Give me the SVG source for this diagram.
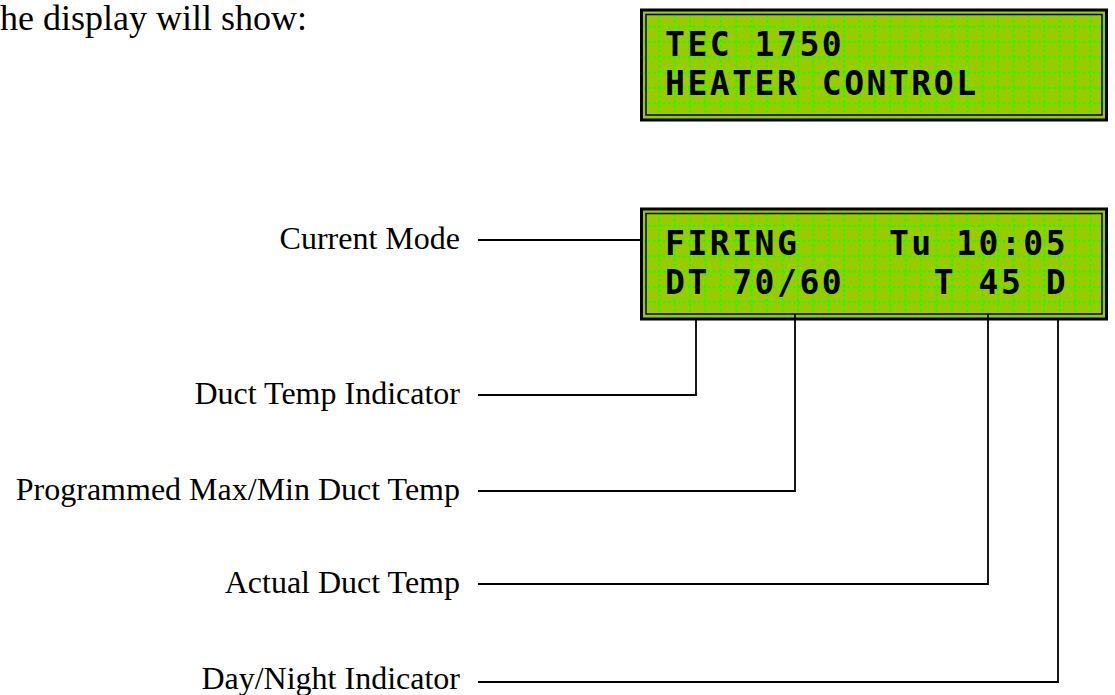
<svg xmlns="http://www.w3.org/2000/svg" xmlns:xlink="http://www.w3.org/1999/xlink" width="1115" height="695" viewBox="0 0 1115 695">
<style>
.lbl{font-family:"Liberation Serif","Times New Roman",serif;font-size:32px;fill:#000}
.lcdtxt{font-family:"DejaVu Sans Mono","Liberation Mono",monospace;font-weight:bold;font-size:33px;letter-spacing:2.53px;fill:#000}
.grid{stroke:#1aff00;stroke-width:2;stroke-dasharray:2.5 2.5;fill:none}
.conn{stroke:#000;stroke-width:1.8;fill:none}
</style>
<defs>
<g id="lcd">
<rect x="641.5" y="10" width="465" height="110" fill="#99cc00" stroke="#000" stroke-width="3"/>
<path class="grid" d="M659.3,15V115M674.7,15V115M690.1,15V115M705.5,15V115M720.9,15V115M736.3,15V115M751.7,15V115M767.1,15V115M782.5,15V115M797.9,15V115M813.3,15V115M828.7,15V115M844.1,15V115M859.5,15V115M874.9,15V115M890.3,15V115M905.7,15V115M921.1,15V115M936.5,15V115M951.9,15V115M967.3,15V115M982.7,15V115M998.1,15V115M1013.5,15V115M1028.9,15V115M1044.3,15V115M1059.7,15V115M1075.1,15V115M1090.5,15V115"/>
<path class="grid" d="M643,26.7H1105M643,42H1105M643,57.3H1105M643,72.7H1105M643,88H1105M643,103.3H1105"/>
<rect x="646" y="14.5" width="456" height="100.5" fill="none" stroke="#000" stroke-width="1.5"/>
</g>
</defs>
<text id="intro" class="lbl" x="-22" y="30" style="font-size:36px">The display will show:</text>
<g id="lcd-top">
<use xlink:href="#lcd"/>
<text class="lcdtxt" x="665" y="56" xml:space="preserve">TEC 1750</text>
<text class="lcdtxt" x="665" y="95" xml:space="preserve">HEATER CONTROL</text>
</g>
<g id="lcd-main">
<use xlink:href="#lcd" y="199"/>
<text class="lcdtxt" x="665" y="255" xml:space="preserve">FIRING    Tu 10:05</text>
<text class="lcdtxt" x="665" y="294" xml:space="preserve">DT 70/60    T 45 D</text>
</g>
<g id="label-current-mode"><text class="lbl" x="460" y="249" text-anchor="end">Current Mode</text></g>
<g id="label-duct-temp-indicator"><text class="lbl" x="460" y="404" text-anchor="end">Duct Temp Indicator</text></g>
<g id="label-programmed"><text class="lbl" x="460" y="500" text-anchor="end">Programmed Max/Min Duct Temp</text></g>
<g id="label-actual"><text class="lbl" x="460" y="593" text-anchor="end">Actual Duct Temp</text></g>
<g id="label-day-night"><text class="lbl" x="460" y="689" text-anchor="end">Day/Night Indicator</text></g>
<g id="connectors">
<path class="conn" d="M478,240H641"/>
<path class="conn" d="M478,395H696V320"/>
<path class="conn" d="M478,491H795V314"/>
<path class="conn" d="M478,584H988V314"/>
<path class="conn" d="M478,682H1058V320"/>
</g>
</svg>
